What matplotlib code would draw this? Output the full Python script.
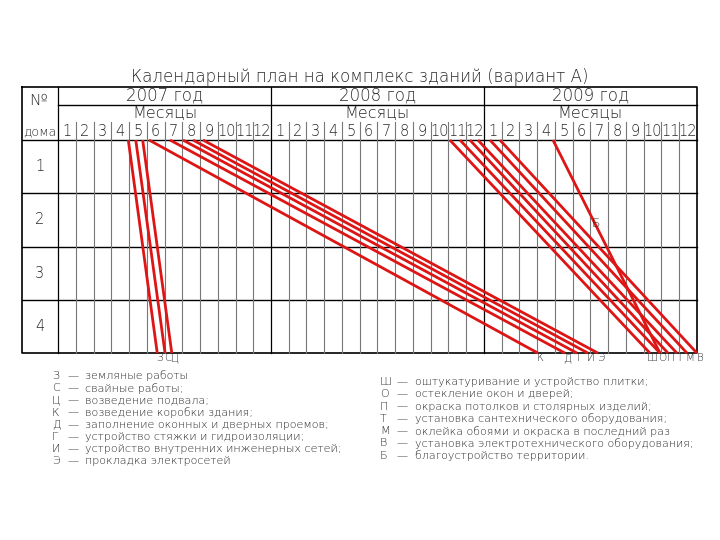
# -*- coding: utf-8 -*-
import matplotlib
matplotlib.use("Agg")
import matplotlib.pyplot as plt

# calendar plan (cyclogram) data, time in months from Jan 2007
years = ["2007 год", "2008 год", "2009 год"]
months = [str(m) for m in range(1, 13)]
houses = ["1", "2", "3", "4"]

works = ["З", "С", "Ц", "К", "Д", "Г", "И", "Э",
         "Ш", "О", "П", "Т", "М", "В", "Б"]
start = [3.96, 4.38, 4.77, 5.13, 6.31, 7.04, 7.61, 8.17,
         22.08, 22.65, 23.21, 23.66, 24.34, 24.90, 27.89]
finish = [5.59, 6.03, 6.41, 27.04, 28.56, 29.24, 29.86, 30.42,
          33.35, 33.92, 34.37, 34.87, 35.44, 36.0, 33.92]

legend_left = [
    ("З", "земляные работы"),
    ("С", "свайные работы;"),
    ("Ц", "возведение подвала;"),
    ("К", "возведение коробки здания;"),
    ("Д", "заполнение оконных и дверных проемов;"),
    ("Г", "устройство стяжки и гидроизоляции;"),
    ("И", "устройство внутренних инженерных сетей;"),
    ("Э", "прокладка электросетей"),
]
legend_right = [
    ("Ш", "оштукатуривание и устройство плитки;"),
    ("О", "остекление окон и дверей;"),
    ("П", "окраска потолков и столярных изделий;"),
    ("Т", "установка сантехнического оборудования;"),
    ("М", "оклейка обоями и окраска в последний раз"),
    ("В", "установка электротехнического оборудования;"),
    ("Б", "благоустройство территории."),
]

plt.rcParams["font.family"] = ["DejaVu Sans"]
txt = dict(color="#2a2a2a", fontweight="light")

fig = plt.figure(figsize=(7.2, 5.4), dpi=100)
ax = fig.add_axes([0, 0, 1, 1])
ax.set_xlim(-3.27, 37.30)
ax.set_ylim(7.51, -2.63)
ax.axis("off")

n_months = 12 * len(years)
left = -2.03
nh = len(houses)

# table frame
ax.plot([left, n_months, n_months, left, left], [-1, -1, nh, nh, -1], color="black", lw=1.2)
ax.plot([0, n_months], [-0.657, -0.657], color="black", lw=1.0)
ax.plot([left, n_months], [0, 0], color="black", lw=1.0)
for h in range(1, nh):
    ax.plot([left, n_months], [h, h], color="black", lw=1.0)

# month grid
for m in range(n_months):
    if m % 12 == 0:
        ax.plot([m, m], [-1, nh], color="black", lw=0.9)
    else:
        ax.plot([m, m], [-0.338, nh], color="#777777", lw=0.8)

# header text
ax.text((left + n_months) / 2, -1.18, "Календарный план на комплекс зданий (вариант А)",
        ha="center", va="center", fontsize=12, **txt)
for i, y in enumerate(years):
    ax.text(12 * i + 6, -0.83, y, ha="center", va="center", fontsize=12, **txt)
    ax.text(12 * i + 6, -0.50, "Месяцы", ha="center", va="center", fontsize=11.5, **txt)
    for j, m in enumerate(months):
        ax.text(12 * i + j + 0.5, -0.17, m, ha="center", va="center", fontsize=10.5, **txt)
ax.text(left + 0.9, -0.75, "№", ha="center", va="center", fontsize=11, **txt)
ax.text(left + 1.0, -0.17, "дома", ha="center", va="center", fontsize=9, **txt)
for h, name in enumerate(houses):
    ax.text(left + 1.0, h + 0.5, name, ha="center", va="center", fontsize=10.5, **txt)

# work flow lines
for w, s, f in zip(works, start, finish):
    ax.plot([s, f], [0, nh], color="#dd1515", lw=2.0, solid_capstyle="butt")
    if w == "Б":
        ax.text(s + (f - s) * 0.4, 1.55, w, ha="center", va="center", fontsize=9, **txt)
    else:
        ax.text(f + 0.15, nh + 0.1, w, ha="center", va="center", fontsize=7.5, **txt)

# legend
for i, (k, t) in enumerate(legend_left):
    y = 1 - (376 + 12.2 * i) / 540
    fig.text(52 / 720, y, k, ha="left", va="center", fontsize=8, **txt)
    fig.text(67 / 720, y, "—", ha="left", va="center", fontsize=8, **txt)
    fig.text(85 / 720, y, t, ha="left", va="center", fontsize=8, **txt)
for i, (k, t) in enumerate(legend_right):
    y = 1 - (382 + 12.3 * i) / 540
    fig.text(380 / 720, y, k, ha="left", va="center", fontsize=8, **txt)
    fig.text(396 / 720, y, "—", ha="left", va="center", fontsize=8, **txt)
    fig.text(415 / 720, y, t, ha="left", va="center", fontsize=8, **txt)

fig.savefig("out.png", dpi=100)
